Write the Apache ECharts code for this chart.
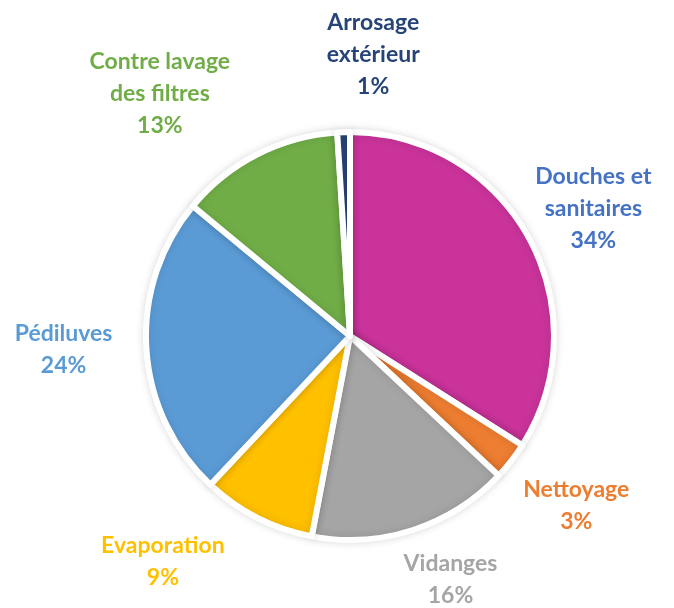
<!DOCTYPE html>
<html>
<head>
<meta charset="utf-8">
<script src="https://cdn.jsdelivr.net/npm/echarts@6/dist/echarts.min.js"></script>
<style>
html,body{margin:0;padding:0;background:#fff;}
#chart{width:674px;height:608px;}
</style>
</head>
<body>
<div id="chart"></div>
<script>
// ---- data ----
var categories = ["Douches et\nsanitaires", "Nettoyage", "Vidanges", "Evaporation", "Pédiluves", "Contre lavage\ndes filtres", "Arrosage\nextérieur"];
var values = [34, 3, 16, 9, 24, 13, 1];

// ---- styles / layout ----
var sliceColors = ["#C9339A", "#ED7D31", "#A5A5A5", "#FFC000", "#5B9BD5", "#70AD47", "#264478"];
var labelColors = ["#4472C4", "#ED7D31", "#A5A5A5", "#FFC000", "#5B9BD5", "#70AD47", "#264478"];
var center = [350, 336];
var radius = 204;
var labelDist = 280;
var labelOffsets = [[-2, 7], [5, -2], [14, -23], [-60, -24], [-7, -4], [-63, 7], [32, -2]];

var total = values.reduce(function (a, b) { return a + b; }, 0);
function midAngle(i) {
  var before = 0;
  for (var k = 0; k < i; k++) before += values[k];
  var mid = before + values[i] / 2;
  return (90 - mid / total * 360) * Math.PI / 180;
}

var chart = echarts.init(document.getElementById('chart'), null, {renderer: 'canvas'});
chart.setOption({
  backgroundColor: '#ffffff',
  animation: false,
  series: [{
    type: 'pie',
    center: center,
    radius: radius,
    startAngle: 90,
    clockwise: true,
    data: categories.map(function (c, i) {
      return {
        name: c,
        value: values[i],
        itemStyle: {color: sliceColors[i]},
        label: {color: labelColors[i]}
      };
    }),
    itemStyle: {
      borderColor: '#ffffff',
      borderWidth: 6,
      shadowBlur: 8,
      shadowColor: 'rgba(0,0,0,0.12)'
    },
    label: {
      show: true,
      position: 'outside',
      overflow: 'none',
      formatter: function (p) { return p.name + '\n' + p.value + '%'; },
      fontFamily: 'Lato',
      fontWeight: 'bold',
      fontSize: 23,
      lineHeight: 32,
      align: 'center'
    },
    labelLine: {show: false},
    labelLayout: function (params) {
      var i = params.dataIndex;
      var a = midAngle(i);
      return {
        x: center[0] + labelDist * Math.cos(a) + labelOffsets[i][0],
        y: center[1] - labelDist * Math.sin(a) + labelOffsets[i][1],
        align: 'center',
        verticalAlign: 'middle'
      };
    }
  }]
});
</script>
</body>
</html>
